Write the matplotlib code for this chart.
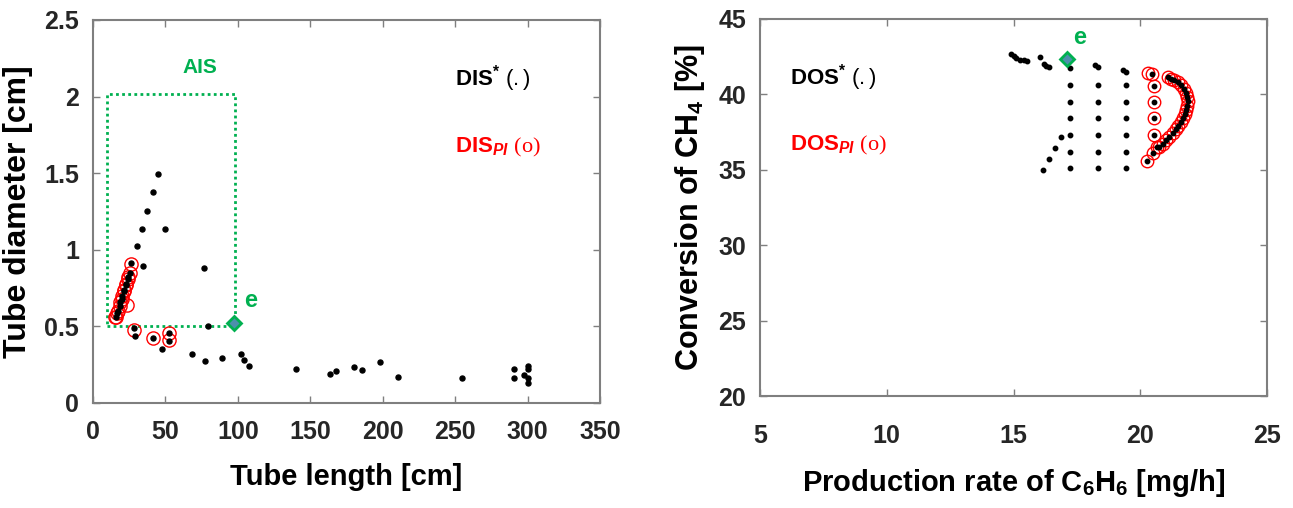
import numpy as np
import matplotlib
matplotlib.use('Agg')
import matplotlib.pyplot as plt

plt.rcParams['font.family'] = ['Liberation Sans', 'DejaVu Sans']
plt.rcParams['mathtext.fontset'] = 'custom'
plt.rcParams['mathtext.default'] = 'regular'
plt.rcParams['mathtext.rm'] = 'Liberation Sans'
plt.rcParams['mathtext.it'] = 'Liberation Sans:italic:bold'
plt.rcParams['mathtext.sf'] = 'Liberation Serif'

# ---- tube design space (left) ----
dis_x = [44.6, 41.2, 37.5, 34.0, 49.7, 30.4, 34.3, 26.4, 76.8, 79.6,
         28.0, 29.0, 41.2, 52.7, 52.7, 47.8, 68.3, 77.3, 89.0, 102.0,
         104.0, 107.7, 139.9, 163.8, 168.0, 180.1, 185.6, 197.9, 210.5, 254.4,
         290.3, 290.3, 300.4, 300.4, 297.4, 300.4, 300.4]
dis_y = [1.497, 1.375, 1.253, 1.136, 1.136, 1.025, 0.892, 0.912, 0.879, 0.505,
         0.487, 0.44, 0.422, 0.457, 0.407, 0.352, 0.32, 0.274, 0.294, 0.32,
         0.28, 0.24, 0.22, 0.187, 0.211, 0.233, 0.213, 0.268, 0.168, 0.161,
         0.22, 0.161, 0.242, 0.22, 0.183, 0.161, 0.133]
chain_x = [16.0, 16.9, 17.4, 18.3, 18.8, 19.7, 20.2, 21.1, 21.6, 22.5, 23.0, 23.9, 24.4, 25.2]
chain_y = [0.56, 0.59, 0.60, 0.63, 0.66, 0.68, 0.70, 0.73, 0.74, 0.77, 0.78, 0.81, 0.82, 0.85]
dis_pi_x = [26.4, 28.5, 41.2, 52.7, 52.7, 23.2, 15.5]
dis_pi_y = [0.91, 0.476, 0.422, 0.455, 0.41, 0.64, 0.56]
ais_x = [10, 98, 98, 10, 10]
ais_y = [0.5, 0.5, 2.02, 2.02, 0.5]
e_left = (97.3, 0.524)

# ---- operating space (right) ----
dos_x = [14.9, 15.0, 15.1, 15.25, 15.4, 15.55, 16.05, 16.2, 16.3, 16.4,
         17.23, 17.23, 17.23, 17.23, 17.23, 17.23, 17.23,
         16.86, 16.64, 16.41, 16.15,
         18.2, 18.35, 18.35, 18.35, 18.35, 18.35, 18.35, 18.35,
         19.3, 19.45, 19.44, 19.44, 19.44, 19.44, 19.44, 19.44]
dos_y = [42.7, 42.55, 42.4, 42.3, 42.28, 42.2, 42.46, 42.0, 41.9, 41.8,
         41.73, 40.62, 39.52, 38.41, 37.31, 36.2, 35.1,
         37.2, 36.43, 35.72, 34.99,
         41.95, 41.8, 40.62, 39.52, 38.41, 37.31, 36.2, 35.1,
         41.6, 41.5, 40.62, 39.52, 38.41, 37.31, 36.2, 35.1]
dos_pi_x = [20.3, 20.45, 20.56, 20.56, 20.56, 20.56, 20.65, 20.52, 20.25,
            21.1, 21.22, 21.35, 21.48, 21.6, 21.72, 21.8, 21.86, 21.88, 21.86, 21.82,
            21.75, 21.68, 21.6, 21.5, 21.4, 21.28, 21.15, 21.02, 20.88, 20.75]
dos_pi_y = [41.45, 41.35, 40.56, 39.52, 38.41, 37.31, 36.53, 36.1, 35.6,
            41.15, 41.05, 40.95, 40.8, 40.6, 40.38, 40.12, 39.85, 39.55, 39.25, 38.95,
            38.68, 38.42, 38.18, 37.92, 37.68, 37.42, 37.18, 36.95, 36.72, 36.5]
e_right = (17.12, 42.33)

green = '#00b050'
tick_font = dict(family=['Liberation Sans Narrow', 'Liberation Sans'], size=18, weight='bold')


def style_axes(ax):
    for s in ax.spines.values():
        s.set_color('#7f7f7f')
        s.set_linewidth(1.5)
    ax.tick_params(direction='in', top=True, right=True, length=5, width=1,
                   color='#7f7f7f', labelcolor='#262626')
    for lab in ax.get_xticklabels() + ax.get_yticklabels():
        lab.set_fontproperties(matplotlib.font_manager.FontProperties(**tick_font))


fig = plt.figure(figsize=(12.93, 5.08), dpi=100)

ax1 = fig.add_axes([93 / 1293, 105 / 508, 507 / 1293, 383 / 508])
ax1.plot(ais_x, ais_y, linestyle=(0, (1, 1.2)), color=green, lw=2)
ax1.plot(chain_x + dis_pi_x, chain_y + dis_pi_y, 'o', ms=9.5, mfc='none', mec='red', mew=1)
ax1.plot(dis_x + chain_x, dis_y + chain_y, 'o', ms=3.6, color='black')
ax1.plot(*e_left, 'D', ms=7, mfc='#4d8fac', mec=green, mew=2)
ax1.text(74, 2.19, 'AIS', color=green, fontsize=15, fontweight='bold', ha='center', va='center')
ax1.text(104, 0.67, 'e', color=green, fontsize=17, fontweight='bold', ha='left', va='center')
ax1.text(250, 2.12, r'DIS$^{*}$ $\mathrm{(.)}$', fontsize=16, fontweight='bold', va='center')
ax1.text(250, 1.67, r'DIS$_{\mathit{PI}}$ $\mathsf{(o)}$', fontsize=16, fontweight='bold',
         color='red', va='center')
ax1.set_xlim(0, 350)
ax1.set_ylim(0, 2.5)
ax1.set_xticks(np.arange(0, 351, 50))
ax1.set_yticks([0, 0.5, 1, 1.5, 2, 2.5])
ax1.set_yticklabels(['0', '0.5', '1', '1.5', '2', '2.5'])
ax1.set_xlabel('Tube length [cm]', fontsize=21, fontweight='bold', labelpad=14)
ax1.set_ylabel('Tube diameter [cm]', fontsize=23, fontweight='bold', labelpad=8)
style_axes(ax1)
ax1.tick_params(axis='x', pad=12)
ax1.tick_params(axis='y', pad=10)

ax2 = fig.add_axes([760 / 1293, 112 / 508, 507 / 1293, 377 / 508])
ax2.plot(dos_pi_x, dos_pi_y, 'o', ms=9, mfc='none', mec='red', mew=1)
ax2.plot(dos_x + dos_pi_x[1:], dos_y + dos_pi_y[1:], 'o', ms=3.2, color='black')
ax2.plot(*e_right, 'D', ms=7, mfc='#4d8fac', mec=green, mew=2)
ax2.text(17.35, 43.8, 'e', color=green, fontsize=17, fontweight='bold', ha='left', va='center')
ax2.text(6.2, 41.1, r'DOS$^{*}$ $\mathrm{(.)}$', fontsize=16, fontweight='bold', va='center')
ax2.text(6.2, 36.6, r'DOS$_{\mathit{PI}}$ $\mathsf{(o)}$', fontsize=16, fontweight='bold',
         color='red', va='center')
ax2.set_xlim(5, 25)
ax2.set_ylim(20, 45)
ax2.set_xticks([5, 10, 15, 20, 25])
ax2.set_yticks([20, 25, 30, 35, 40, 45])
ax2.set_xlabel(r'Production rate of C$_6$H$_6$ [mg/h]', fontsize=21, fontweight='bold', labelpad=14)
ax2.set_ylabel(r'Conversion of CH$_4$ [%]', fontsize=22, fontweight='bold', labelpad=8)
style_axes(ax2)
ax2.tick_params(axis='x', pad=20)
ax2.tick_params(axis='y', pad=10)

fig.savefig('out.png', dpi=100)
